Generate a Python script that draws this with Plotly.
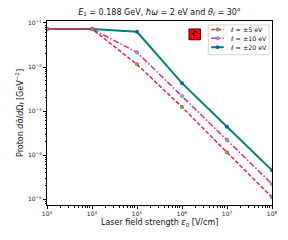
import plotly.graph_objects as go

# ---- data ----
field = [1e3, 1e4, 1e5, 1e6, 1e7, 1e8]
sigma_l5 = [0.073, 0.073, 0.0115, 1.23e-3, 1.15e-4, 1.1e-5]
sigma_l10 = [0.073, 0.073, 0.0215, 2.2e-3, 2.2e-4, 2.2e-5]
sigma_l20 = [0.073, 0.073, 0.063, 4.3e-3, 4.4e-4, 4.5e-5]
labels = ["ℓ = ±5 eV", "ℓ = ±10 eV", "ℓ = ±20 eV"]
x_tick_exp = [3, 4, 5, 6, 7, 8]
y_tick_exp = [-5, -4, -3, -2, -1]

# page body has an 8px default margin; layout in screen pixels minus this offset
OFF = 8
W, H = 288 - OFF, 240 - OFF
L, R, T, B = 41, 274, 19, 205  # plot area in screen px


def px(x):
    return (x - L) / (R - L)


def py(y):
    return (B - y) / (B - T)


FONT = "DejaVu Sans"
red = "#e8234f"
mag = "#e0289e"
teal = "#008080"

fig = go.Figure()
series = [
    (sigma_l20, teal, "solid", 2.0, "#1f3dff", teal),
    (sigma_l10, mag, "6px,2px,1.5px,2px", 1.5, "#4fc7b0", mag),
    (sigma_l5, red, "4px,2px", 1.5, "#5cb84a", red),
]
for vals, col, dash, lw, mcol, medge in series:
    fig.add_trace(go.Scatter(
        x=field, y=vals, mode="lines+markers",
        line=dict(color=col, dash=dash, width=lw),
        marker=dict(size=3.5, color=mcol, line=dict(color=medge, width=0.5)),
        showlegend=False,
    ))

minor_x = [m * 10 ** e for e in range(3, 8) for m in range(2, 10)]
minor_y = [m * 10 ** e for e in range(-6, -1) for m in range(2, 10)]

axis_common = dict(
    type="log", showgrid=False, zeroline=False, showline=True, mirror=True,
    linecolor="black", linewidth=1, ticks="outside", ticklen=3, tickwidth=0.8,
    tickcolor="black", tickfont=dict(family=FONT, size=6, color="#222"),
)
fig.update_xaxes(
    **axis_common, range=[3, 8],
    tickmode="array", tickvals=[10 ** e for e in x_tick_exp],
    ticktext=[f"10<sup>{e}</sup>" for e in x_tick_exp],
    minor=dict(tickmode="array", tickvals=minor_x, ticks="outside", ticklen=1.5,
               tickcolor="black", tickwidth=0.6),
)
fig.update_yaxes(
    **axis_common, range=[-5.135, -0.955],
    tickmode="array", tickvals=[10 ** e for e in y_tick_exp],
    ticktext=[f"10<sup>−{abs(e)}</sup>" for e in y_tick_exp],
    minor=dict(tickmode="array", tickvals=minor_y, ticks="outside", ticklen=1.5,
               tickcolor="black", tickwidth=0.6),
    title=dict(text="Proton <i>d</i>σ̄/<i>d</i>Ω<sub><i>f</i></sub> [GeV<sup>−2</sup>]",
               font=dict(family=FONT, size=8, color="#111"), standoff=3),
)

shapes = []
annotations = []
# x-axis title
annotations.append(dict(xref="paper", yref="paper", x=0.5, y=py(223),
                        xanchor="center", yanchor="middle", showarrow=False,
                        text="Laser field strength <i>ε</i><sub>0</sub> [V/cm]",
                        font=dict(family=FONT, size=8, color="#111")))
# legend box
shapes.append(dict(type="rect", xref="paper", yref="paper",
                   x0=px(208), x1=px(271), y0=py(53), y1=py(23),
                   line=dict(color="#cccccc", width=0.8), fillcolor="white"))
legend_items = [
    (labels[0], red, "4px,2px", 1.5, "#5cb84a"),
    (labels[1], mag, "6px,2px,1.5px,2px", 1.5, "#4fc7b0"),
    (labels[2], teal, "solid", 2.0, "#1f3dff"),
]
for i, (lab, col, dash, lw, mcol) in enumerate(legend_items):
    yy = 27.5 + 9 * i
    shapes.append(dict(type="line", xref="paper", yref="paper",
                       x0=px(211), x1=px(224), y0=py(yy), y1=py(yy),
                       line=dict(color=col, width=lw, dash=dash)))
    shapes.append(dict(type="circle", xref="paper", yref="paper",
                       xsizemode="pixel", ysizemode="pixel",
                       xanchor=px(217.5), yanchor=py(yy),
                       x0=-1.7, x1=1.7, y0=-1.7, y1=1.7,
                       fillcolor=mcol, line=dict(color=col, width=0.5)))
    annotations.append(dict(xref="paper", yref="paper", x=px(228), y=py(yy),
                            xanchor="left", yanchor="middle", showarrow=False,
                            text=lab, font=dict(family=FONT, size=6.3, color="#111")))

# panel label
shapes.append(dict(type="rect", xref="paper", yref="paper",
                   x0=px(188), x1=px(200), y0=py(38), y1=py(27),
                   line=dict(color="black", width=0.8), fillcolor="red"))
annotations.append(dict(xref="paper", yref="paper", x=px(194), y=py(32.5),
                        xanchor="center", yanchor="middle", showarrow=False,
                        text="<b>C</b>", font=dict(family=FONT, size=7, color="black")))

fig.update_layout(
    width=W, height=H,
    margin=dict(l=L - OFF, r=288 - R, t=T - OFF, b=240 - B),
    paper_bgcolor="white", plot_bgcolor="white",
    title=dict(text="<i>E</i><sub>1</sub> = 0.188 GeV, <i>ħω</i> = 2 eV and <i>θ<sub>f</sub></i> = 30°",
               x=px(157.5), xref="paper", xanchor="center",
               y=1 - (12 - OFF) / H, yanchor="middle",
               font=dict(family=FONT, size=8, color="#111")),
    shapes=shapes, annotations=annotations,
    showlegend=False,
)

fig.write_html("out.html")
